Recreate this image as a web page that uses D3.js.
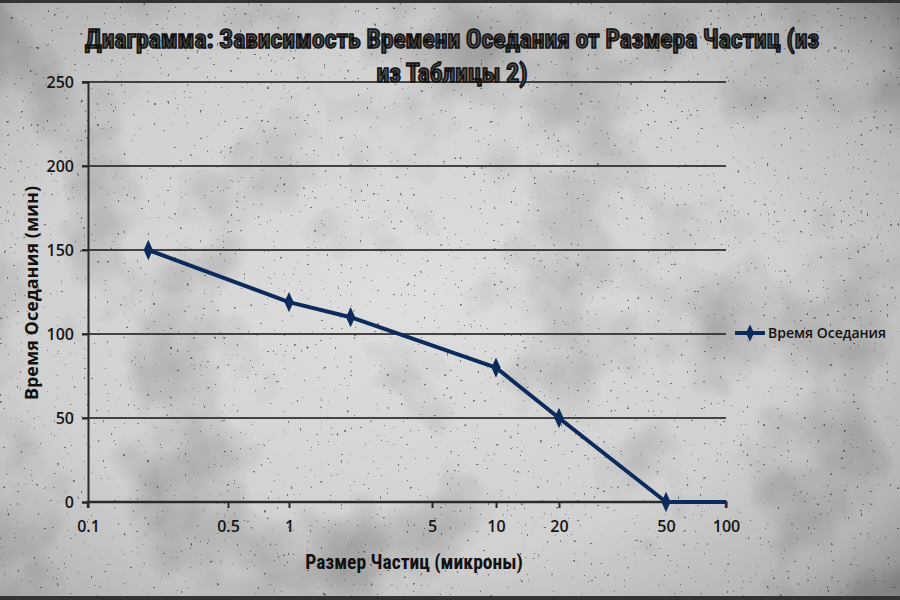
<!DOCTYPE html>
<html>
<head>
<meta charset="utf-8">
<script src="https://cdn.jsdelivr.net/npm/d3@7"></script>
<style>
html,body{margin:0;padding:0;background:#bdbdbd;}
svg{display:block;}
</style>
</head>
<body>
<div id="chart"></div>
<script>
// ---- data ----
const titleLines = ["Диаграмма: Зависимость Времени Оседания от Размера Частиц (из", "из Таблицы 2)"];
const seriesName = "Время Оседания";
const particleSizes = [0.2, 1, 2, 10, 20, 50, 100];
const settlingTimes = [150, 119, 110, 80, 50, 0, 0];
const xTickValues = [0.1, 0.5, 1, 5, 10, 20, 50, 100];
const yTickValues = [0, 50, 100, 150, 200, 250];
const xAxisTitle = "Размер Частиц (микроны)";
const yAxisTitle = "Время Оседания (мин)";

const W = 900, H = 600;
const svg = d3.select("#chart").append("svg").attr("width", W).attr("height", H);
const defs = svg.append("defs");

// background texture
const rg = defs.append("radialGradient").attr("id", "vig").attr("cx", "45%").attr("cy", "50%").attr("r", "72%");
rg.append("stop").attr("offset", "0%").attr("stop-color", "#dedede");
rg.append("stop").attr("offset", "60%").attr("stop-color", "#d0d0d0");
rg.append("stop").attr("offset", "88%").attr("stop-color", "#b4b4b4");
rg.append("stop").attr("offset", "100%").attr("stop-color", "#8e8e8e");

const f = defs.append("filter").attr("id", "grunge").attr("x", 0).attr("y", 0).attr("width", "100%").attr("height", "100%");
f.append("feTurbulence").attr("type", "fractalNoise").attr("baseFrequency", "0.008").attr("numOctaves", 4).attr("seed", 7).attr("result", "n");
f.append("feColorMatrix").attr("type", "matrix")
  .attr("values", "0 0 0 0 0  0 0 0 0 0  0 0 0 0 0  0 0 0 -2.2 1.15").attr("result", "a");
f.append("feComposite").attr("in", "a").attr("in2", "SourceGraphic").attr("operator", "in");

const f2 = defs.append("filter").attr("id", "speck").attr("x", 0).attr("y", 0).attr("width", "100%").attr("height", "100%");
f2.append("feTurbulence").attr("type", "fractalNoise").attr("baseFrequency", "0.3").attr("numOctaves", 2).attr("seed", 3).attr("result", "n");
f2.append("feColorMatrix").attr("type", "matrix")
  .attr("values", "0 0 0 0 0  0 0 0 0 0  0 0 0 0 0  0 0 0 -30 7.2");
f2.append("feComposite").attr("in2", "SourceGraphic").attr("operator", "in");

svg.append("rect").attr("width", W).attr("height", H).attr("fill", "url(#vig)");
svg.append("rect").attr("width", W).attr("height", H).attr("fill", "#777").attr("opacity", 0.25).attr("filter", "url(#grunge)");
svg.append("rect").attr("width", W).attr("height", H).attr("fill", "#222").attr("opacity", 0.45).attr("filter", "url(#speck)");
// dark borders
svg.append("rect").attr("x", 0).attr("y", 0).attr("width", W).attr("height", 3).attr("fill", "#333");
svg.append("rect").attr("x", 0).attr("y", H - 4).attr("width", W).attr("height", 4).attr("fill", "#333");

// scales (piecewise log, matching the uneven spacing of the original)
const x = d3.scaleLog().domain([0.1, 0.5, 1, 5, 10, 20, 50, 100])
  .range([88, 228, 289, 432, 496, 559, 666, 726]);
const y = d3.scaleLinear().domain([0, 250]).range([502, 82]);

const axisColor = "#2a2a2a";
const narrow = "'Liberation Sans Narrow','Roboto Condensed','Open Sans',sans-serif";
const tickFont = "'Open Sans','Noto Sans',sans-serif";

// gridlines
svg.append("g").selectAll("line").data(yTickValues.filter(d => d > 0)).join("line")
  .attr("x1", 82).attr("x2", x(100))
  .attr("y1", d => y(d)).attr("y2", d => y(d))
  .attr("stroke", axisColor).attr("stroke-width", 2.2).attr("opacity", 0.85);

// y axis
const yAxis = svg.append("g").attr("transform", `translate(${x(0.1)},0)`)
  .call(d3.axisLeft(y).tickValues(yTickValues).tickSize(6).tickPadding(8).tickFormat(d3.format("d")));
yAxis.select(".domain").attr("stroke", axisColor).attr("stroke-width", 2);
yAxis.selectAll(".tick line").attr("stroke", axisColor).attr("stroke-width", 2);
yAxis.selectAll("text").attr("font-family", tickFont).attr("font-size", 16).attr("font-weight", 600).attr("fill", "#151515");

// x axis
const xAxis = svg.append("g").attr("transform", `translate(0,${y(0)})`)
  .call(d3.axisBottom(x).tickValues(xTickValues).tickSize(6).tickPadding(13).tickFormat(d => String(d)));
xAxis.select(".domain").attr("stroke", axisColor).attr("stroke-width", 2.4).attr("d", `M${x(0.1)},6V0H${x(100)}V6`);
xAxis.selectAll(".tick line").attr("stroke", axisColor).attr("stroke-width", 2);
xAxis.selectAll("text").attr("font-family", tickFont).attr("font-size", 16).attr("font-weight", 600).attr("fill", "#151515");

// series line
const pts = particleSizes.map((s, i) => [s, settlingTimes[i]]);
const lineGen = d3.line().x(d => x(d[0])).y(d => y(d[1]));
svg.append("path").datum(pts).attr("d", lineGen)
  .attr("fill", "none").attr("stroke", "#0d2a5c").attr("stroke-width", 4).attr("stroke-linejoin", "round");
svg.append("g").selectAll("path").data(pts.slice(0, pts.length - 1)).join("path")
  .attr("d", d3.symbol(d3.symbolDiamond, 90))
  .attr("transform", d => `translate(${x(d[0])},${y(d[1])}) scale(0.9,1.15)`)
  .attr("fill", "#0d2a5c");

// legend
const lg = svg.append("g").attr("transform", `translate(735,${y(100) - 1})`);
lg.append("line").attr("x1", 0).attr("x2", 30).attr("stroke", "#0d2a5c").attr("stroke-width", 4);
lg.append("path").attr("d", d3.symbol(d3.symbolDiamond, 70)).attr("transform", "translate(15,0) scale(0.9,1.1)").attr("fill", "#0d2a5c");
lg.append("text").attr("x", 33).attr("y", 5).text(seriesName)
  .attr("font-family", tickFont).attr("font-size", 14).attr("font-weight", 600).attr("fill", "#111");

// title
const tt = svg.append("g");
titleLines.forEach((t, i) => {
  tt.append("text").attr("x", 452).attr("y", 48 + i * 34).attr("text-anchor", "middle")
    .attr("font-family", narrow).attr("font-weight", "bold").attr("font-size", 25.5)
    .attr("fill", "#4a4a4a").attr("stroke", "#111").attr("stroke-width", 1.5).attr("paint-order", "fill")
    .text(t);
});

// axis titles
svg.append("text").attr("x", 414).attr("y", 569).attr("text-anchor", "middle")
  .attr("font-family", narrow).attr("font-weight", "bold").attr("font-size", 19.5).attr("fill", "#111")
  .text(xAxisTitle);
svg.append("text").attr("transform", "translate(38,293) rotate(-90)").attr("text-anchor", "middle")
  .attr("font-family", tickFont).attr("font-weight", "bold").attr("font-size", 18).attr("fill", "#111")
  .text(yAxisTitle);
</script>
</body>
</html>
